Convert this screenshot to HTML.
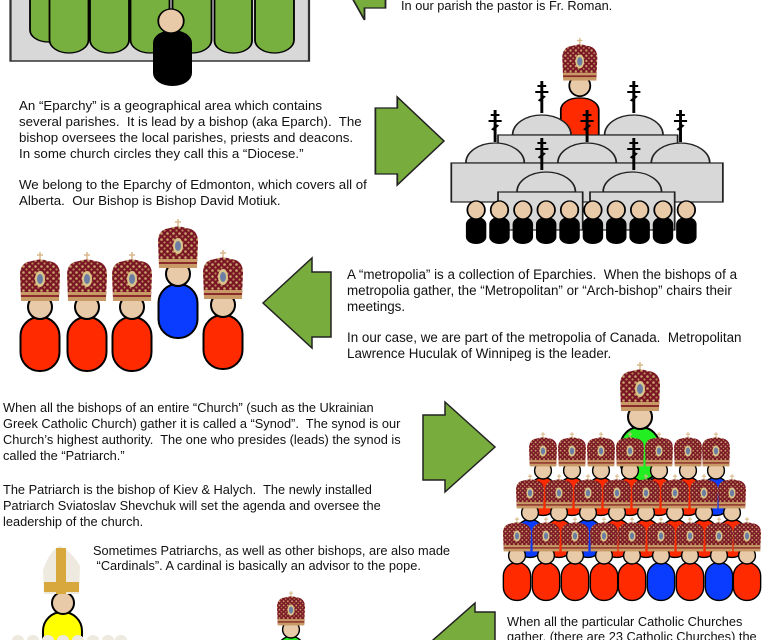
<!DOCTYPE html>
<html><head><meta charset="utf-8"><style>
html,body{margin:0;padding:0;background:#fff;width:771px;height:640px;overflow:hidden}
svg{display:block}
text{font-family:"Liberation Sans",Arial,sans-serif;font-size:12.8px;fill:#111;white-space:pre}
</style></head><body>
<svg width="771" height="640" viewBox="0 0 771 640" xmlns="http://www.w3.org/2000/svg" xml:space="preserve">
<defs>
<pattern id="gd" width="6" height="6" patternUnits="userSpaceOnUse">
<rect width="6" height="6" fill="#7a1526"/>
<circle cx="1.5" cy="1.5" r="1.3" fill="#c9a46a"/>
<circle cx="4.5" cy="4.5" r="1.1" fill="#b88a55"/>
</pattern>
<g id="mitre">
<line x1="0" y1="-7" x2="0" y2="3" stroke="#d8b98a" stroke-width="1.5"/>
<line x1="-3" y1="-4" x2="3" y2="-4" stroke="#d8b98a" stroke-width="1.5"/>
<path d="M-19,40 L-20,16 Q-20,3 -8,2 Q0,-1 8,2 Q20,3 20,16 L19,40 Z" fill="url(#gd)"/>
<ellipse cx="0" cy="20" rx="5" ry="8" fill="#d9c48a"/>
<ellipse cx="0" cy="20" rx="3" ry="5" fill="#6d7ea5"/>
<rect x="-19" y="33" width="38" height="9" fill="#c79a66"/>
<rect x="-19" y="36" width="38" height="2" fill="#8a2a2a"/>
</g>
<g id="headb"><circle cx="0" cy="48" r="12" fill="#e8c9a8" stroke="#000" stroke-width="2"/></g>
<g id="bR"><rect x="-19.5" y="58" width="39" height="54" rx="19" fill="#ff2a00" stroke="#000" stroke-width="2"/><use href="#headb"/><use href="#mitre"/></g>
<g id="bB"><rect x="-19.5" y="58" width="39" height="54" rx="19" fill="#0a3cff" stroke="#000" stroke-width="2"/><use href="#headb"/><use href="#mitre"/></g>
<g id="bG"><rect x="-19.5" y="58" width="39" height="54" rx="19" fill="#22ee22" stroke="#000" stroke-width="2"/><use href="#headb"/><use href="#mitre"/></g>
<g id="cross"><line x1="0" y1="0" x2="0" y2="32" stroke="#000" stroke-width="2"/><line x1="-3" y1="5" x2="3" y2="5" stroke="#000" stroke-width="2"/><line x1="-4.5" y1="11" x2="4.5" y2="11" stroke="#000" stroke-width="2"/><line x1="-2" y1="20" x2="2" y2="15" stroke="#000" stroke-width="2"/></g>
<g id="dea"><rect x="-7" y="7" width="14" height="27" rx="7" fill="#000"/><ellipse cx="0" cy="0" rx="6" ry="9" fill="#e8c9a8" stroke="#000" stroke-width="1.2"/></g>
</defs>

<!-- parish -->
<g transform="scale(1.5,1)">
<rect x="7" y="-10" width="199" height="71" fill="#d8d8d8" stroke="#333" stroke-width="1.5"/>
<g fill="#78b040" stroke="#000" stroke-width="1.2">
<rect x="20" y="-20" width="25" height="62" rx="12"/>
<rect x="33" y="-20" width="26" height="73" rx="13"/>
<rect x="60" y="-20" width="26" height="73" rx="13"/>
<rect x="87" y="-20" width="26" height="73" rx="13"/>
<rect x="115" y="-20" width="26" height="73" rx="13"/>
<rect x="143" y="-20" width="25" height="73" rx="12"/>
<rect x="170" y="-20" width="26" height="73" rx="13"/>
</g>
<rect x="102" y="30" width="26" height="56" rx="13" fill="#000"/>
<ellipse cx="114" cy="21" rx="8.5" ry="12" fill="#e8c9a8" stroke="#000" stroke-width="1.2"/>
<polygon points="228,-20 243,20 243,8 257,8 257,-20" fill="#78ac3c" stroke="#222" stroke-width="1.2"/>
</g>
<text x="401" y="10">In our parish the pastor is Fr. Roman.</text>

<!-- eparchy -->
<text x="19" y="110" style="font-size:13.3px">An “Eparchy” is a geographical area which contains</text>
<text x="19" y="126" style="font-size:13.3px">several parishes.  It is lead by a bishop (aka Eparch).  The</text>
<text x="19" y="142" style="font-size:13.3px">bishop oversees the local parishes, priests and deacons.</text>
<text x="19" y="158" style="font-size:13.3px">In some church circles they call this a “Diocese.”</text>
<text x="19" y="189" style="font-size:13.3px">We belong to the Eparchy of Edmonton, which covers all of</text>
<text x="19" y="205" style="font-size:13.3px">Alberta.  Our Bishop is Bishop David Motiuk.</text>

<!-- church cluster -->
<g transform="translate(6,0) scale(1.46,1)">
<polygon points="253,108 268,108 268,97 300,141 268,185 268,174 253,174" fill="#78ac3c" stroke="#222" stroke-width="1.2"/>
<rect x="380" y="98" width="26" height="50" rx="12" fill="#ff2a00" stroke="#000" stroke-width="1.2"/>
<g transform="translate(393,44) scale(0.6,0.87)"><use href="#headb"/><use href="#mitre"/></g>
<g fill="#d8d8d8" stroke="#222" stroke-width="1.2">
<use href="#cross" x="367" y="81"/><use href="#cross" x="430" y="81"/>
<path d="M347,135 A20,20 0 0 1 387,135 Z"/><path d="M410,135 A20,20 0 0 1 450,135 Z"/>
<rect x="337" y="135" width="123" height="28"/>
<use href="#cross" x="335" y="110"/><use href="#cross" x="398" y="110"/><use href="#cross" x="462" y="110"/>
<path d="M315,163 A20,20 0 0 1 355,163 Z"/><path d="M378,163 A20,20 0 0 1 418,163 Z"/><path d="M442,163 A20,20 0 0 1 482,163 Z"/>
<rect x="305" y="163" width="186" height="39"/>
<use href="#cross" x="367" y="138"/><use href="#cross" x="430" y="138"/>
<path d="M350,192 A20,20 0 0 1 390,192 Z"/><path d="M409,192 A20,20 0 0 1 449,192 Z"/>
<rect x="337" y="192" width="58" height="38"/><rect x="400" y="192" width="58" height="38"/>
</g>
<g>
<use href="#dea" x="322" y="210"/><use href="#dea" x="338" y="210"/><use href="#dea" x="354" y="210"/><use href="#dea" x="370" y="210"/><use href="#dea" x="386" y="210"/>
<use href="#dea" x="402" y="210"/><use href="#dea" x="418" y="210"/><use href="#dea" x="434" y="210"/><use href="#dea" x="450" y="210"/><use href="#dea" x="466" y="210"/>
</g>
</g>

<!-- metropolia -->
<use href="#bR" x="40" y="259"/>
<use href="#bR" x="87" y="259"/>
<use href="#bR" x="132" y="259"/>
<use href="#bB" x="178" y="226"/>
<use href="#bR" x="223" y="257"/>
<polygon points="263,303 312,258 312,272 331,272 331,337 312,337 312,348" fill="#78ac3c" stroke="#222" stroke-width="1.5"/>
<text x="347" y="279" style="font-size:13.4px">A “metropolia” is a collection of Eparchies.  When the bishops of a</text>
<text x="347" y="295" style="font-size:13.4px">metropolia gather, the “Metropolitan” or “Arch-bishop” chairs their</text>
<text x="347" y="311" style="font-size:13.4px">meetings.</text>
<text x="347" y="342" style="font-size:13.4px">In our case, we are part of the metropolia of Canada.  Metropolitan</text>
<text x="347" y="358" style="font-size:13.4px">Lawrence Huculak of Winnipeg is the leader.</text>

<!-- synod -->
<text x="3" y="412">When all the bishops of an entire “Church” (such as the Ukrainian</text>
<text x="3" y="428">Greek Catholic Church) gather it is called a “Synod”.  The synod is our</text>
<text x="3" y="444">Church’s highest authority.  The one who presides (leads) the synod is</text>
<text x="3" y="460">called the “Patriarch.”</text>
<text x="3" y="494">The Patriarch is the bishop of Kiev &amp; Halych.  The newly installed</text>
<text x="3" y="510">Patriarch Sviatoslav Shevchuk will set the agenda and oversee the</text>
<text x="3" y="526">leadership of the church.</text>
<polygon points="423,415 445,415 445,402 495,447 445,492 445,480 423,480" fill="#78ac3c" stroke="#222" stroke-width="1.5"/>

<use href="#bG" x="640" y="369"/>
<g transform="translate(0,437)">
<g transform="translate(543,0) scale(0.7)"><use href="#bR"/></g>
<g transform="translate(572,0) scale(0.7)"><use href="#bR"/></g>
<g transform="translate(601,0) scale(0.7)"><use href="#bR"/></g>
<g transform="translate(630,0) scale(0.7)"><use href="#bR"/></g>
<g transform="translate(659,0) scale(0.7)"><use href="#bR"/></g>
<g transform="translate(688,0) scale(0.7)"><use href="#bR"/></g>
<g transform="translate(716,0) scale(0.7)"><use href="#bB"/></g>
</g>
<g transform="translate(0,479)">
<g transform="translate(530,0) scale(0.7)"><use href="#bB"/></g>
<g transform="translate(559,0) scale(0.7)"><use href="#bR"/></g>
<g transform="translate(588,0) scale(0.7)"><use href="#bB"/></g>
<g transform="translate(617,0) scale(0.7)"><use href="#bR"/></g>
<g transform="translate(646,0) scale(0.7)"><use href="#bR"/></g>
<g transform="translate(675,0) scale(0.7)"><use href="#bR"/></g>
<g transform="translate(704,0) scale(0.7)"><use href="#bR"/></g>
<g transform="translate(732,0) scale(0.7)"><use href="#bR"/></g>
</g>
<g transform="translate(0,522)">
<g transform="translate(517,0) scale(0.7)"><use href="#bR"/></g>
<g transform="translate(546,0) scale(0.7)"><use href="#bR"/></g>
<g transform="translate(575,0) scale(0.7)"><use href="#bR"/></g>
<g transform="translate(604,0) scale(0.7)"><use href="#bR"/></g>
<g transform="translate(632,0) scale(0.7)"><use href="#bR"/></g>
<g transform="translate(661,0) scale(0.7)"><use href="#bB"/></g>
<g transform="translate(690,0) scale(0.7)"><use href="#bR"/></g>
<g transform="translate(719,0) scale(0.7)"><use href="#bB"/></g>
<g transform="translate(747,0) scale(0.7)"><use href="#bR"/></g>
</g>

<!-- cardinals -->
<text x="93" y="555">Sometimes Patriarchs, as well as other bishops, are also made</text>
<text x="93" y="570"> “Cardinals”. A cardinal is basically an advisor to the pope.</text>
<rect x="43" y="612" width="39" height="50" rx="19" fill="#ffff00" stroke="#000" stroke-width="2"/>
<circle cx="63" cy="603" r="11" fill="#e8c9a8" stroke="#000" stroke-width="2"/>
<path d="M44,594 L43,570 Q50,550 60,546 Q72,552 80,566 L79,594 Z" fill="#eeeadf"/>
<rect x="56" y="548" width="10" height="46" fill="#d8a83c"/>
<rect x="44" y="582" width="35" height="10" fill="#d8a83c"/>
<g fill="#eeeadf">
<ellipse cx="18" cy="640" rx="6" ry="5"/><ellipse cx="33" cy="640" rx="6" ry="5"/><ellipse cx="48" cy="640" rx="6" ry="5"/><ellipse cx="63" cy="640" rx="6" ry="5"/><ellipse cx="78" cy="640" rx="6" ry="5"/><ellipse cx="93" cy="640" rx="6" ry="5"/><ellipse cx="108" cy="640" rx="6" ry="5"/><ellipse cx="121" cy="640" rx="6" ry="5"/>
</g>
<g transform="translate(291,596) scale(0.7)"><use href="#bG"/></g>
<polygon points="433,640 475,603 475,612 495,612 495,660 433,660" fill="#78ac3c" stroke="#222" stroke-width="1.5"/>
<text x="507" y="626">When all the particular Catholic Churches</text>
<text x="507" y="641">gather, (there are 23 Catholic Churches) the</text>
</svg>
</body></html>
